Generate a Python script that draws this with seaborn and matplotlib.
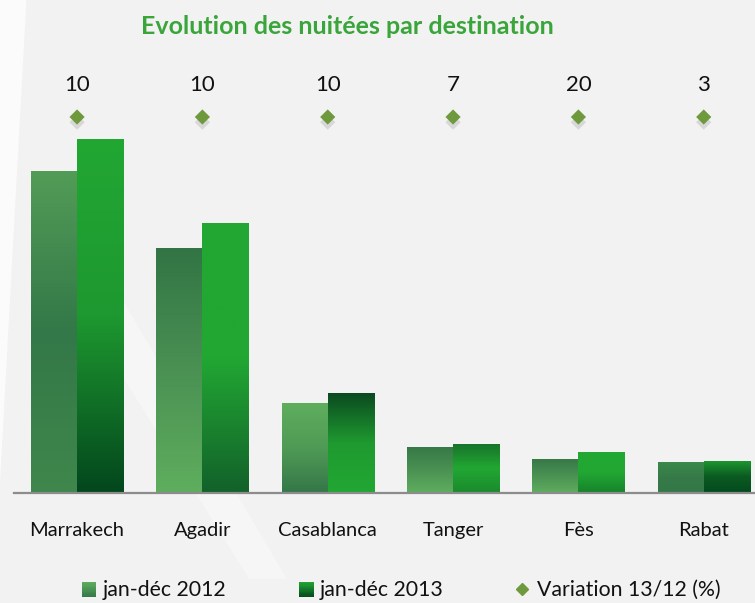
import numpy as np
import pandas as pd
import matplotlib
matplotlib.use("Agg")
import matplotlib.pyplot as plt
import seaborn as sns
from matplotlib.colors import LinearSegmentedColormap
from matplotlib.patches import Rectangle, Polygon
from matplotlib.legend_handler import HandlerBase
from matplotlib.lines import Line2D
import matplotlib.transforms as mtransforms

# ---------------- data ----------------
destinations = ["Marrakech", "Agadir", "Casablanca", "Tanger", "Fès", "Rabat"]
nuitees_2012 = [5910, 4500, 1650, 845, 625, 573]   # thousands (estimated)
nuitees_2013 = [6500, 4950, 1830, 900, 750, 590]
variation = [10, 10, 10, 7, 20, 3]
series_labels = ["jan-déc 2012", "jan-déc 2013"]
variation_label = "Variation 13/12 (%)"
title = "Evolution des nuitées par destination"

df = pd.DataFrame({
    "destination": destinations * 2,
    "valeur": nuitees_2012 + nuitees_2013,
    "serie": [series_labels[0]] * 6 + [series_labels[1]] * 6,
})

# gradient styles (top, middle, bottom) per bar
grad_2012 = [
    ["#529c57", "#337848", "#3f874c"],
    ["#327445", "#4a9153", "#5fae5e"],
    ["#5fae5e", "#4f9a55", "#357749"],
    ["#367747", "#4a9153", "#5fae5e"],
    ["#367747", "#4a9153", "#5fae5e"],
    ["#3a8a4b", "#367a48", "#357849"],
]
grad_2013 = [
    ["#22a733", "#1e9830", "#03461d"],
    ["#22a733", "#22a733", "#12612a"],
    ["#0b4a20", "#1f9a30", "#22a733"],
    ["#17712a", "#22a733", "#1a8a2d"],
    ["#22a733", "#22a733", "#17822c"],
    ["#1d9a30", "#0b5a22", "#034a1f"],
]

sns.set_style("white")
plt.rcParams["font.family"] = ["Lato", "DejaVu Sans"]

W, H = 755, 603
fig = plt.figure(figsize=(W / 100, H / 100), dpi=100)
fig.patch.set_facecolor("#f2f2f2")

# background axes with subtle lighter shapes
bg = fig.add_axes([0, 0, 1, 1], zorder=-10)
bg.set_xlim(0, 1)
bg.set_ylim(0, 1)
bg.axis("off")
bg.add_patch(Polygon([[0, 0.2], [0.035, 1.0], [0.0, 1.0]], closed=True,
                     facecolor="#fbfbfb", edgecolor="none"))
bg.add_patch(Polygon([[0.10, 0.50], [0.33, 0.04], [0.38, 0.04], [0.14, 0.55]],
                     closed=True, facecolor="#f6f6f6", edgecolor="none"))

ax_bottom = 1 - 493 / H
ax_top = 1 - 60 / H
ax = fig.add_axes([14.4 / W, ax_bottom, 752 / W, ax_top - ax_bottom])
ax.set_facecolor("none")

px_per_unit = 354 / 6500.0
ymax = (493 - 60) / px_per_unit

sns.barplot(data=df, x="destination", y="valeur", hue="serie",
            order=destinations, hue_order=series_labels,
            palette=["#4a9153", "#22a733"], width=0.735, dodge=True,
            ax=ax, legend=False, saturation=1, edgecolor="none")

ax.set_xlim(-0.5, 5.5)
ax.set_ylim(0, ymax)

for container, grads in zip(ax.containers, [grad_2012, grad_2013]):
    for bar, cols in zip(container, grads):
        x0, w, h = bar.get_x(), bar.get_width(), bar.get_height()
        cmap = LinearSegmentedColormap.from_list("g", cols)
        grad = np.linspace(0, 1, 256).reshape(-1, 1)
        im = ax.imshow(grad, cmap=cmap, aspect="auto", origin="upper",
                       extent=[x0, x0 + w, 0, h], zorder=3,
                       interpolation="bilinear")
        im.set_clip_path(bar)
        bar.set_facecolor("none")

ax.set_xlim(-0.5, 5.5)
ax.set_ylim(0, ymax)

for s in ["top", "right", "left"]:
    ax.spines[s].set_visible(False)
ax.spines["bottom"].set_color("#8c8c8c")
ax.spines["bottom"].set_linewidth(1.6)
ax.spines["bottom"].set_zorder(5)
ax.set_yticks([])
ax.set_xlabel("")
ax.set_ylabel("")
ax.tick_params(axis="x", length=0, pad=21, labelsize=14.5, labelcolor="#111111")

# variation markers and labels
trans = mtransforms.blended_transform_factory(ax.transData, ax.transAxes)
diam_y = (493 - 117) / (493 - 60)
lab_y = (493 - 85) / (493 - 60)
xs = np.arange(len(destinations))
ax.scatter(xs, [diam_y - 0.012] * len(xs), transform=trans, marker="D", s=60,
           color="#bdbdbd", alpha=0.5, edgecolors="none", zorder=4, clip_on=False)
ax.scatter(xs, [diam_y] * len(xs), transform=trans, marker="D", s=60,
           color="#6e9a3d", edgecolors="none", zorder=5, clip_on=False)
for x, v in zip(xs, variation):
    ax.text(x, lab_y, f"{v}", transform=trans, ha="center", va="center",
            fontsize=16, color="#111111", clip_on=False)

fig.text(347 / W, 1 - 27 / H, title, ha="center", va="center",
         fontsize=18, fontweight="bold", color="#3aa53a")


class GradHandler(HandlerBase):
    def __init__(self, cols):
        super().__init__()
        self.cols = cols

    def create_artists(self, legend, orig_handle, xdescent, ydescent, width,
                       height, fontsize, trans):
        cmap = LinearSegmentedColormap.from_list("g", self.cols)
        n = 12
        side = height * 1.0
        x0 = -xdescent + width - side
        y0 = -ydescent - 0.05 * height
        arts = []
        for i in range(n):
            c = cmap(1 - (i + 0.5) / n)
            r = Rectangle((x0, y0 + side * i / n), side, side / n + 0.01,
                          facecolor=c, edgecolor="none", transform=trans)
            arts.append(r)
        return arts


h1 = Rectangle((0, 0), 1, 1)
h2 = Rectangle((0, 0), 1, 1)
h3 = Line2D([], [], marker="D", linestyle="none", color="#6e9a3d", markersize=6)
leg = fig.legend([h1, h2, h3], series_labels + [variation_label],
                 loc="center", bbox_to_anchor=(0.53, 1 - 590 / H), ncol=3,
                 frameon=False, fontsize=15.3, handlelength=0.8, handletextpad=0.3,
                 columnspacing=3.3,
                 handler_map={h1: GradHandler(["#5fae5e", "#357849"]),
                              h2: GradHandler(["#22a733", "#034a1f"])})
for t in leg.get_texts():
    t.set_color("#111111")

fig.savefig("out.png", dpi=100, facecolor=fig.get_facecolor())
